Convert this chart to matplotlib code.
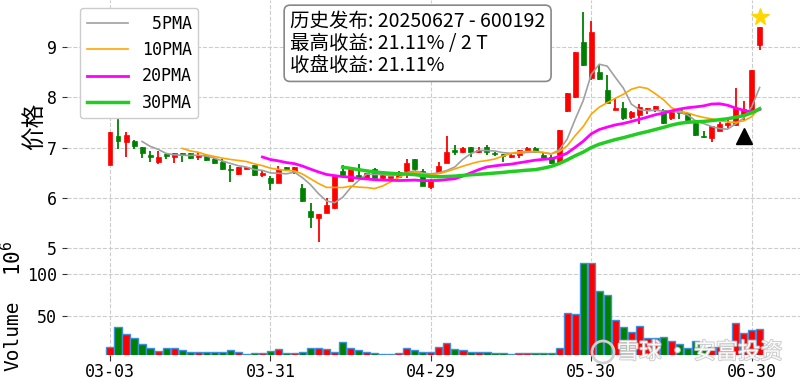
import matplotlib
matplotlib.use('Agg')
import matplotlib.pyplot as plt
import matplotlib.patheffects as pe
from matplotlib.patches import Ellipse
from matplotlib.ticker import FuncFormatter
from matplotlib import font_manager as fm
import numpy as np
import pandas as pd

# ---------------- data ----------------
opens = [6.65, 7.23, 7.10, 7.13, 7.01, 6.85, 6.72, 6.88, 6.82, 6.90,
         6.89, 6.82, 6.83, 6.77, 6.72, 6.58, 6.47, 6.57, 6.65, 6.46,
         6.39, 6.30, 6.61, 6.54, 6.19, 5.74, 5.59, 5.69, 5.79, 6.54,
         6.34, 6.46, 6.39, 6.58, 6.39, 6.40, 6.42, 6.54, 6.77, 6.54,
         6.21, 6.49, 6.69, 6.95, 6.91, 7.02, 6.92, 7.02, 6.90, 6.87,
         6.81, 6.85, 6.92, 7.00, 6.85, 6.82, 6.69, 7.72, 8.00, 9.09,
         8.38, 8.49, 8.15, 7.74, 7.78, 7.60, 7.65, 7.76, 7.76, 7.75,
         7.58, 7.75, 7.68, 7.48, 7.23, 7.19, 7.33, 7.45, 7.45, 7.65,
         7.75, 9.03]
highs = [7.30, 7.66, 7.31, 7.15, 7.01, 6.93, 6.93, 6.90, 6.90, 6.90,
         6.90, 6.90, 6.85, 6.80, 6.78, 6.66, 6.62, 6.62, 6.65, 6.54,
         6.44, 6.64, 6.62, 6.62, 6.27, 5.89, 5.68, 5.99, 6.44, 6.65,
         6.57, 6.67, 6.49, 6.60, 6.46, 6.46, 6.54, 6.77, 6.77, 6.57,
         6.38, 6.71, 7.22, 7.04, 7.02, 7.02, 7.02, 7.05, 6.92, 6.88,
         6.88, 6.96, 7.02, 7.02, 6.92, 6.85, 7.35, 8.08, 8.90, 9.70,
         9.52, 8.64, 8.44, 7.98, 7.91, 7.72, 7.86, 7.78, 7.83, 7.76,
         7.73, 7.78, 7.69, 7.51, 7.32, 7.42, 7.50, 7.55, 8.18, 7.93,
         8.54, 9.40]
lows = [6.65, 6.97, 6.82, 6.98, 6.80, 6.72, 6.67, 6.77, 6.69, 6.72,
        6.78, 6.75, 6.73, 6.68, 6.55, 6.32, 6.45, 6.57, 6.44, 6.42,
        6.15, 6.30, 6.55, 6.47, 5.92, 5.41, 5.13, 5.69, 5.77, 6.44,
        6.34, 6.37, 6.35, 6.40, 6.35, 6.39, 6.40, 6.39, 6.54, 6.23,
        6.18, 6.49, 6.69, 6.85, 6.89, 6.82, 6.89, 6.86, 6.84, 6.72,
        6.79, 6.79, 6.90, 6.89, 6.77, 6.67, 6.66, 7.71, 7.98, 8.61,
        8.34, 8.34, 7.88, 7.74, 7.54, 7.57, 7.47, 7.67, 7.71, 7.47,
        7.54, 7.57, 7.52, 7.22, 7.19, 7.10, 7.32, 7.38, 7.43, 7.55,
        7.74, 8.93]
closes = [7.30, 7.12, 7.25, 7.03, 6.90, 6.82, 6.82, 6.84, 6.90, 6.85,
          6.80, 6.85, 6.75, 6.70, 6.57, 6.55, 6.62, 6.62, 6.45, 6.49,
          6.30, 6.58, 6.57, 6.61, 5.94, 5.61, 5.68, 5.85, 6.44, 6.46,
          6.57, 6.40, 6.49, 6.40, 6.46, 6.44, 6.52, 6.69, 6.57, 6.24,
          6.35, 6.64, 6.92, 6.92, 7.00, 6.92, 6.95, 6.91, 6.87, 6.84,
          6.85, 6.95, 7.00, 6.92, 6.79, 6.69, 7.35, 8.08, 8.89, 8.64,
          9.30, 8.36, 7.89, 7.78, 7.58, 7.70, 7.81, 7.78, 7.83, 7.48,
          7.71, 7.68, 7.54, 7.25, 7.20, 7.42, 7.47, 7.48, 7.78, 7.76,
          8.54, 9.40]
volumes_m = [13.2, 37.2, 28.0, 24.0, 16.0, 12.0, 8.4, 12.0, 12.0, 8.8,
             7.2, 7.2, 7.2, 7.2, 7.2, 8.8, 6.4, 4.4, 5.6, 5.2,
             8.4, 10.0, 5.2, 5.2, 7.2, 12.0, 11.2, 10.0, 7.2, 19.2,
             12.0, 8.8, 7.2, 6.0, 4.8, 4.8, 6.0, 12.0, 8.8, 7.2,
             7.2, 12.8, 18.0, 10.0, 8.8, 7.2, 7.2, 7.2, 6.0, 6.0,
             4.4, 6.0, 5.2, 5.2, 5.2, 5.2, 12.0, 53.2, 52.0, 112.8,
             112.8, 80.0, 74.4, 44.8, 37.2, 31.2, 38.4, 23.2, 23.2, 24.8,
             20.0, 16.0, 12.0, 20.0, 11.2, 12.8, 12.8, 14.4, 41.2, 29.6,
             32.8, 34.8]
tick_pos = [0, 20, 40, 60, 80]
tick_labels = ['03-03', '03-31', '04-29', '05-30', '06-30']
ma_windows = [5, 10, 20, 30]
ma_labels = [' 5PMA', '10PMA', '20PMA', '30PMA']
publish_idx, publish_mark = 79, 7.22
peak_idx, peak_mark = 81, 9.60
info_lines = ['历史发布: 20250627 - 600192',
              '最高收益: 21.11% / 2 T',
              '收盘收益: 21.11%']
watermark = '雪球 · 安富投资'

# ---------------- fonts ----------------
names = {f.name for f in fm.fontManager.ttflist}
cjk_mono = 'Noto Sans Mono CJK SC' if 'Noto Sans Mono CJK SC' in names else 'Noto Sans CJK SC'
plt.rcParams['font.family'] = ['DejaVu Sans Mono', 'Noto Sans CJK SC']

W, H = 800, 380
fig = plt.figure(figsize=(W / 100, H / 100), dpi=100)
L = 67
ax = fig.add_axes([L / W, 1 - 256 / H, (W - L) / W, 256 / H])
axv = fig.add_axes([L / W, 1 - 355 / H, (W - L) / W, 97 / H], sharex=ax)

o = np.array(opens); h = np.array(highs); lo = np.array(lows); c = np.array(closes)
n = len(c)
x = np.arange(n)
up = c >= o
cols = np.where(up, '#ff0000', '#008000')

# candles
ax.vlines(x, lo, h, colors=cols, lw=1.3, zorder=3)
body_bot = np.minimum(o, c)
body_h = np.maximum(np.abs(c - o), 0.02)
ax.bar(x, body_h, 0.62, bottom=body_bot, color=cols, edgecolor=cols, lw=0.5, zorder=4)

# moving averages
ma_colors = ['#a0a0a0', '#ffa500', '#ff00ff', '#22cc22']
ma_lw = [1.2, 1.2, 2.0, 2.5]
s = pd.Series(c)
for w, lab, col, lw in zip(ma_windows, ma_labels, ma_colors, ma_lw):
    ax.plot(x, s.rolling(w).mean(), color=col, lw=lw, label=lab, zorder=5)

ax.plot([publish_idx], [publish_mark], marker='^', color='black', ms=11, ls='none', zorder=6)
ax.plot([peak_idx], [peak_mark], marker='*', color='#ffd700', ms=13, ls='none', zorder=6)

ax.set_xlim(-5.36, 86.03)
ax.set_ylim(4.845, 9.93)
ax.set_yticks([5, 6, 7, 8, 9])
ax.tick_params(axis='x', bottom=False, labelbottom=False)
ax.tick_params(axis='y', labelsize=12, colors='#333333', labelcolor='black')
ax.grid(True, ls='--', color='#cccccc', lw=0.8)
ax.set_axisbelow(True)
ax.set_xticks(tick_pos)

leg = ax.legend(loc='upper left', bbox_to_anchor=(80 / W, 1 - 8 / H), bbox_transform=fig.transFigure,
                borderaxespad=0, handlelength=2.5, fontsize=12, framealpha=1, edgecolor='#cccccc')

# volume
axv.bar(x, np.array(volumes_m) * 1e6, width=0.9, color=cols, edgecolor='#3d8fe0', lw=1.0, zorder=3)
axv.set_ylim(3.1e6, 119.2e6)
axv.set_yticks([50e6, 100e6])
axv.yaxis.set_major_formatter(FuncFormatter(lambda v, p: f'{v / 1e6:.0f}'))
axv.set_xticks(tick_pos)
axv.set_xticklabels(tick_labels)
axv.tick_params(axis='both', labelsize=12, colors='#333333', labelcolor='black')
axv.tick_params(axis='x', length=4, pad=1.5)
axv.grid(True, ls='--', color='#cccccc', lw=0.8)
axv.set_axisbelow(True)

for a in (ax, axv):
    for sp in a.spines.values():
        sp.set_visible(False)

# labels
fig.text(34 / W, 1 - 126 / H, '价格', rotation=90, fontsize=17, ha='center', va='center',
         family=['Noto Sans CJK SC'])
fig.text(13 / W, 1 - 258 / H, r'$\mathregular{10^{6}}$', rotation=90, fontsize=15, ha='center', va='center')
fig.text(13 / W, 1 - 336 / H, 'Volume', rotation=90, fontsize=14, ha='center', va='center')

# info box
fig.text(290 / W, 1 - 11 / H, '\n'.join(info_lines), fontsize=14, ha='left', va='top',
         family=[cjk_mono, 'Noto Sans CJK SC'], linespacing=1.05,
         bbox=dict(boxstyle='round,pad=0.3', fc='white', ec='#888888', lw=1.2))

# watermark
fig.text(617 / W, 1 - 352 / H, watermark, fontsize=16, color='white', alpha=0.9, ha='left', va='center',
         family=['Noto Sans CJK SC'], zorder=10,
         path_effects=[pe.withStroke(linewidth=1.4, foreground='#c8c8c8')])
fig.patches.append(Ellipse((603 / W, 1 - 352 / H), 22 / W, 22 / H, transform=fig.transFigure,
                           fill=False, ec='#cfcfcf', lw=2, zorder=10))

fig.savefig('out.png', dpi=100)
